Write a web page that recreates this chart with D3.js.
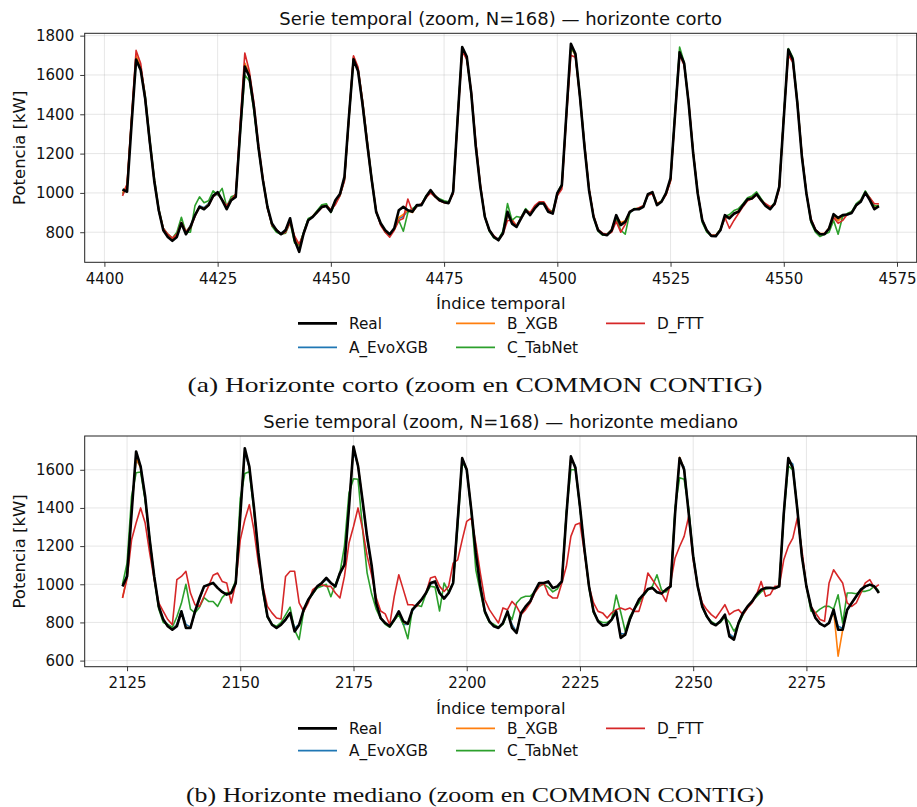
<!DOCTYPE html>
<html>
<head>
<meta charset="utf-8">
<script src="https://cdn.jsdelivr.net/npm/d3@7"></script>
<style>
  body { margin: 0; background: #fff; }
  svg { display: block; }
</style>
</head>
<body>
<div id="chart"></div>
<script>
// ---- data: horizonte corto (index 4404..4571) ----
const startShort = 4404;
const realShort = [
  1018,1006,1350,1678,1626,1480,1265,1062,912,810,776,756,776,846,790,827,887,929,917,938,985,1004,963,917,
  963,980,1320,1643,1592,1439,1235,1065,929,844,810,790,810,871,759,700,795,861,878,904,929,933,904,963,
  994,1082,1390,1680,1620,1450,1255,1070,904,846,810,790,820,912,929,912,904,938,938,980,1014,984,963,953,
  948,1006,1380,1742,1694,1508,1235,1031,878,810,776,759,795,904,844,827,871,912,887,921,946,946,904,895,
  999,1040,1400,1759,1708,1490,1235,1014,878,810,790,785,810,887,836,853,904,917,917,929,994,1004,938,955,
  999,1075,1400,1715,1660,1456,1201,997,861,810,781,780,810,887,870,895,904,938,968,972,994,963,934,917,
  946,1031,1380,1729,1678,1456,1184,997,861,810,790,790,819,892,873,887,890,898,938,955,1002,963,917,933
];
const evoShort = [
  1010,1030,1360,1690,1640,1470,1250,1060,905,815,785,765,790,840,800,835,880,935,925,945,980,995,965,930,
  965,985,1330,1655,1600,1430,1230,1060,920,840,808,795,815,860,770,725,800,860,880,905,930,935,915,955,
  990,1070,1400,1690,1630,1440,1250,1060,900,840,808,790,818,870,880,910,905,930,940,978,1005,985,965,955,
  950,1000,1390,1730,1690,1500,1230,1030,875,812,780,765,800,880,860,835,870,905,895,925,945,945,910,900,
  995,1035,1410,1745,1700,1480,1230,1015,880,812,792,790,812,880,845,855,900,915,920,930,985,1000,945,955,
  995,1065,1410,1720,1655,1450,1200,995,860,808,782,782,812,870,880,890,905,935,965,975,995,965,935,920,
  945,1025,1390,1725,1675,1450,1185,995,860,812,792,790,818,885,860,880,888,900,935,955,998,968,925,935
];
const xgbShort = [
  1000,1040,1370,1700,1640,1475,1255,1060,908,812,782,762,788,842,802,830,885,930,922,942,985,998,962,928,
  962,982,1335,1660,1605,1435,1232,1062,922,842,805,792,812,865,775,730,798,862,882,908,932,938,912,958,
  992,1075,1395,1692,1628,1445,1248,1062,902,842,805,788,815,875,890,912,900,932,942,975,1008,988,962,952,
  948,1002,1388,1722,1688,1502,1232,1032,878,810,778,762,798,885,865,832,868,908,892,922,948,948,912,902,
  992,1032,1405,1740,1698,1485,1232,1018,882,810,792,788,815,882,850,858,902,918,922,932,988,1002,948,958,
  992,1062,1405,1722,1658,1452,1202,998,862,810,785,785,815,872,878,892,908,938,968,978,998,968,938,922,
  948,1028,1388,1722,1672,1452,1188,998,862,810,795,792,822,888,858,882,890,902,938,958,1000,970,928,938
];
const tabShort = [
  995,1020,1380,1670,1640,1500,1280,1080,920,820,790,770,800,876,800,800,935,980,950,960,1010,990,1023,930,
  980,990,1300,1600,1570,1420,1230,1070,935,830,800,790,795,850,745,735,800,870,880,910,940,945,900,950,
  985,1065,1380,1670,1630,1470,1270,1080,905,845,800,785,815,860,805,900,920,935,940,985,1010,980,970,960,
  955,1000,1390,1735,1690,1510,1250,1040,880,805,770,765,805,946,860,880,875,920,895,930,950,950,915,905,
  1000,1045,1390,1740,1705,1500,1250,1020,875,805,785,790,808,870,810,790,900,920,922,935,990,1000,940,960,
  1000,1070,1410,1742,1665,1460,1210,1000,850,800,782,785,815,880,890,910,920,945,975,985,1005,970,940,925,
  950,1030,1395,1735,1690,1470,1195,1000,850,800,778,790,800,860,790,880,895,905,945,965,1010,975,935,935
];
const fttShort = [
  985,1045,1390,1725,1660,1490,1270,1070,915,820,790,770,790,850,805,820,880,930,920,935,980,1000,965,935,
  965,995,1360,1712,1620,1460,1250,1075,925,835,815,790,800,850,780,740,790,860,880,900,925,935,915,940,
  985,1060,1380,1698,1640,1470,1270,1075,910,835,800,775,810,860,870,969,905,935,945,975,1000,980,960,950,
  950,995,1370,1720,1680,1520,1260,1045,880,810,782,762,790,860,860,830,875,912,900,935,955,955,920,895,
  985,1020,1380,1700,1690,1490,1250,1025,885,815,795,790,800,855,800,840,905,915,925,935,990,995,945,955,
  990,1060,1390,1700,1650,1470,1210,1000,865,810,785,785,810,875,820,860,895,930,960,970,990,960,945,930,
  940,1020,1390,1700,1665,1465,1200,1000,870,815,790,795,820,875,845,860,890,900,935,960,1000,975,945,945
];
const xTicksShort = [4400, 4425, 4450, 4475, 4500, 4525, 4550, 4575];
const yTicksShort = [800, 1000, 1200, 1400, 1600, 1800];

// ---- data: horizonte mediano (index 2124..2291) ----
const startMed = 2124;
const realMed = [
  989,1041,1370,1696,1617,1460,1234,1041,884,815,780,762,780,858,771,771,858,928,989,998,1007,981,960,946,
  954,1007,1360,1713,1617,1408,1164,972,832,788,771,788,815,850,753,788,867,919,954,989,1007,1033,1007,989,
  1059,1103,1400,1722,1620,1440,1250,1100,902,823,797,780,815,858,806,794,867,893,919,954,1007,1015,954,925,
  954,1007,1330,1661,1600,1391,1164,989,858,806,780,771,797,858,771,745,850,884,910,963,1007,1007,1015,981,
  989,1015,1360,1670,1609,1408,1181,989,858,806,783,788,815,858,719,736,815,870,919,946,975,981,958,951,
  972,989,1370,1661,1600,1373,1146,989,884,832,797,785,806,841,727,710,797,850,884,910,946,972,981,981,
  979,989,1370,1661,1609,1391,1146,989,884,823,794,780,797,867,762,762,867,902,937,972,989,998,989,954
];
const evoMed = [
  990,1050,1400,1650,1620,1450,1230,1040,880,810,780,765,790,860,790,775,850,920,985,995,1005,980,960,950,
  955,1000,1380,1690,1610,1400,1160,970,830,790,775,790,812,848,770,790,860,915,950,985,1005,1025,1005,990,
  1050,1100,1420,1700,1620,1430,1240,1090,900,825,798,782,812,850,790,790,860,890,918,950,1000,1010,960,930,
  955,1005,1350,1650,1600,1390,1160,990,860,806,782,775,800,850,790,750,845,880,905,960,1000,1005,1010,980,
  985,1010,1370,1660,1620,1400,1180,990,860,810,788,790,815,855,740,740,812,870,915,940,970,980,960,955,
  970,985,1380,1650,1615,1380,1150,990,880,830,800,790,808,835,740,720,800,850,882,908,944,970,980,980,
  978,988,1380,1650,1630,1390,1150,990,882,825,795,783,800,860,780,770,865,900,935,970,988,996,988,958
];
const xgbMed = [
  930,1040,1390,1660,1610,1450,1230,1040,882,812,778,762,785,855,775,772,855,925,988,996,1005,980,958,948,
  952,1005,1370,1700,1615,1405,1162,972,832,790,772,788,815,850,760,785,865,918,952,988,1006,1030,1006,990,
  1055,1100,1410,1715,1625,1438,1245,1095,900,824,798,781,814,855,800,792,865,892,918,952,1005,1012,955,928,
  955,1006,1340,1660,1605,1392,1162,989,858,806,781,772,798,855,775,748,848,882,908,962,1005,1006,1012,980,
  988,1012,1365,1668,1612,1405,1180,989,858,806,785,788,815,857,725,738,814,868,918,945,973,980,958,952,
  972,988,1372,1665,1605,1376,1148,989,883,832,798,786,806,840,730,712,798,850,883,910,945,971,980,980,
  978,989,1372,1662,1612,1392,1148,989,883,823,794,781,797,866,623,760,866,902,936,971,989,997,989,955
];
const tabMed = [
  1000,1110,1460,1584,1588,1440,1240,1030,870,800,790,775,830,900,1000,870,850,880,930,910,910,884,930,955,
  960,1020,1450,1580,1590,1390,1150,960,825,790,780,800,840,880,760,710,860,915,950,980,990,1000,935,1000,
  1060,1200,1478,1553,1550,1290,1060,950,870,820,790,775,810,840,790,715,870,890,884,950,990,985,860,1007,
  960,1007,1300,1640,1600,1380,1076,960,850,800,790,775,790,850,815,902,928,937,937,960,990,1000,985,960,
  975,1015,1380,1600,1600,1400,1180,980,850,810,800,800,815,944,853,754,830,870,900,940,970,990,1050,970,
  960,990,1400,1558,1550,1400,1150,990,880,830,805,790,800,830,800,754,790,840,880,910,935,960,975,980,
  980,995,1360,1620,1600,1400,1150,990,860,850,870,884,884,870,945,797,954,954,950,963,963,970,990,965
];
const fttMed = [
  928,1030,1233,1321,1400,1321,1164,1024,902,858,815,788,1024,1041,1068,954,893,884,937,990,1047,1059,1015,1007,
  902,1007,1233,1338,1417,1286,1111,989,884,850,823,818,1041,1068,1068,902,858,902,972,989,998,989,989,954,
  928,1041,1216,1303,1400,1290,1150,1050,930,860,845,788,937,1050,972,893,893,884,919,954,1033,1041,989,962,
  989,1111,1128,1233,1330,1347,1216,1059,919,867,832,797,876,867,910,884,841,867,902,954,989,1007,946,928,
  928,1007,1094,1251,1312,1321,1164,989,902,858,850,823,850,867,876,867,876,858,858,937,1059,1024,989,954,
  910,1007,1138,1198,1251,1355,1129,989,902,867,841,823,858,893,841,858,867,841,876,902,946,1015,937,946,
  989,989,1129,1198,1242,1347,1180,989,884,850,815,806,1007,1076,1041,1007,902,884,902,954,1007,1024,981,998
];
const xTicksMed = [2125, 2150, 2175, 2200, 2225, 2250, 2275];
const yTicksMed = [600, 800, 1000, 1200, 1400, 1600];

const seriesNames = ['A_EvoXGB', 'B_XGB', 'C_TabNet', 'D_FTT'];
const seriesColors = ['#1f77b4', '#ff7f0e', '#2ca02c', '#d62728'];

const W = 917, H = 807;
const left = 84.7, right = 916.7;
const sans = '"DejaVu Sans", sans-serif';

const svg = d3.select('#chart')
  .append('svg')
  .attr('width', W)
  .attr('height', H);

function drawPanel(p) {
  const n = p.real.length;
  const xs = d3.range(n).map(i => p.start + i);
  const all = [p.real].concat(p.preds).flat();
  const [lo, hi] = d3.extent(all);
  const padY = (hi - lo) * 0.05;
  const padX = (n - 1) * 0.05;

  const x = d3.scaleLinear()
    .domain([p.start - padX, p.start + n - 1 + padX])
    .range([left, right]);
  const y = d3.scaleLinear()
    .domain([lo - padY, hi + padY])
    .range([p.bottom, p.top]);

  const g = svg.append('g');

  // grid
  g.selectAll('.gx').data(p.xTicks).enter().append('line')
    .attr('x1', d => x(d)).attr('x2', d => x(d))
    .attr('y1', p.top).attr('y2', p.bottom)
    .attr('stroke', '#b0b0b0').attr('stroke-opacity', 0.4).attr('stroke-width', 0.8);
  g.selectAll('.gy').data(p.yTicks).enter().append('line')
    .attr('x1', left).attr('x2', right)
    .attr('y1', d => y(d)).attr('y2', d => y(d))
    .attr('stroke', '#b0b0b0').attr('stroke-opacity', 0.4).attr('stroke-width', 0.8);

  const line = d3.line()
    .x((d, i) => x(xs[i]))
    .y(d => y(d));

  p.preds.forEach((vals, k) => {
    g.append('path').datum(vals)
      .attr('d', line)
      .attr('fill', 'none')
      .attr('stroke', seriesColors[k])
      .attr('stroke-width', 1.6)
      .attr('stroke-linejoin', 'round');
  });
  g.append('path').datum(p.real)
    .attr('d', line)
    .attr('fill', 'none')
    .attr('stroke', '#000')
    .attr('stroke-width', 2.6)
    .attr('stroke-linejoin', 'round');

  // axes
  const ax = g.append('g')
    .attr('transform', `translate(0,${p.bottom})`)
    .call(d3.axisBottom(x).tickValues(p.xTicks).tickSize(4.5).tickPadding(6.5).tickFormat(d3.format('d')));
  const ay = g.append('g')
    .attr('transform', `translate(${left},0)`)
    .call(d3.axisLeft(y).tickValues(p.yTicks).tickSize(4.5).tickPadding(6).tickFormat(d3.format('d')));
  [ax, ay].forEach(a => {
    a.select('.domain').remove();
    a.selectAll('line').attr('stroke', '#222').attr('stroke-width', 0.9);
    a.selectAll('text').attr('font-family', sans).attr('font-size', 15).attr('fill', '#111');
  });

  // frame
  g.append('rect')
    .attr('x', left).attr('y', p.top)
    .attr('width', right - left).attr('height', p.bottom - p.top)
    .attr('fill', 'none').attr('stroke', '#222').attr('stroke-width', 1);

  // title
  g.append('text')
    .attr('x', (left + right) / 2).attr('y', p.top - 8.5)
    .attr('text-anchor', 'middle')
    .attr('font-family', sans).attr('font-size', 18).attr('fill', '#111')
    .text(p.title);

  // y label
  g.append('text')
    .attr('transform', `translate(25,${(p.top + p.bottom) / 2}) rotate(-90)`)
    .attr('text-anchor', 'middle')
    .attr('font-family', sans).attr('font-size', 16.5).attr('fill', '#111')
    .text('Potencia [kW]');

  // x label
  g.append('text')
    .attr('x', (left + right) / 2).attr('y', p.xLabelY)
    .attr('text-anchor', 'middle')
    .attr('font-family', sans).attr('font-size', 16.5).attr('fill', '#111')
    .text('Índice temporal');

  // legend (3 columns, column-major)
  const items = [{ name: 'Real', color: '#000', w: 2.8 }]
    .concat(seriesNames.map((nm, k) => ({ name: nm, color: seriesColors[k], w: 1.8 })));
  const colX = [298, 456, 606];
  items.forEach((it, k) => {
    const cx = colX[Math.floor(k / 2)];
    const cy = p.legendY[k % 2];
    g.append('line')
      .attr('x1', cx).attr('x2', cx + 39)
      .attr('y1', cy).attr('y2', cy)
      .attr('stroke', it.color).attr('stroke-width', it.w);
    g.append('text')
      .attr('x', cx + 51).attr('y', cy + 5.5)
      .attr('font-family', sans).attr('font-size', 15.3).attr('fill', '#111')
      .text(it.name);
  });

  // caption
  g.append('text')
    .attr('x', 475).attr('y', p.captionY)
    .attr('text-anchor', 'middle')
    .attr('font-family', '"Liberation Serif", "DejaVu Serif", serif')
    .attr('font-size', 21).attr('fill', '#111')
    .attr('textLength', p.captionW).attr('lengthAdjust', 'spacingAndGlyphs')
    .text(p.caption);
}

drawPanel({
  start: startShort, real: realShort,
  preds: [evoShort, xgbShort, tabShort, fttShort],
  xTicks: xTicksShort, yTicks: yTicksShort,
  top: 33.3, bottom: 262.3,
  title: 'Serie temporal (zoom, N=168) — horizonte corto',
  xLabelY: 309, legendY: [323.3, 347.3],
  caption: '(a) Horizonte corto (zoom en COMMON CONTIG)', captionY: 392, captionW: 575
});

drawPanel({
  start: startMed, real: realMed,
  preds: [evoMed, xgbMed, tabMed, fttMed],
  xTicks: xTicksMed, yTicks: yTicksMed,
  top: 436, bottom: 666.7,
  title: 'Serie temporal (zoom, N=168) — horizonte mediano',
  xLabelY: 713.5, legendY: [728.3, 750.7],
  caption: '(b) Horizonte mediano (zoom en COMMON CONTIG)', captionY: 802, captionW: 578
});
</script>
</body>
</html>
